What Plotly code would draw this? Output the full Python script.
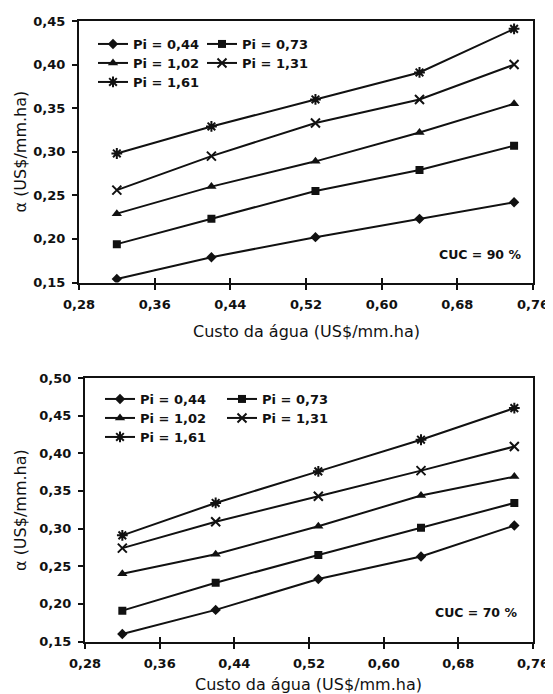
import plotly.graph_objects as go

# page body has an 8px margin; the figure is sized so it ends at the window edge
OFF = 8
W, H = 553 - OFF, 694 - OFF

# ---- data ----
custo = [0.32, 0.42, 0.53, 0.64, 0.74]
pi_labels = ["Pi = 0,44", "Pi = 0,73", "Pi = 1,02", "Pi = 1,31", "Pi = 1,61"]

cuc90_pi044 = [0.154, 0.179, 0.202, 0.223, 0.242]
cuc90_pi073 = [0.194, 0.223, 0.255, 0.279, 0.307]
cuc90_pi102 = [0.229, 0.260, 0.289, 0.322, 0.355]
cuc90_pi131 = [0.256, 0.295, 0.333, 0.360, 0.400]
cuc90_pi161 = [0.298, 0.329, 0.360, 0.391, 0.441]

cuc70_pi044 = [0.160, 0.192, 0.233, 0.263, 0.304]
cuc70_pi073 = [0.191, 0.228, 0.265, 0.301, 0.334]
cuc70_pi102 = [0.240, 0.266, 0.303, 0.344, 0.369]
cuc70_pi131 = [0.274, 0.309, 0.343, 0.377, 0.409]
cuc70_pi161 = [0.291, 0.334, 0.376, 0.418, 0.460]

x_ticks = [0.28, 0.36, 0.44, 0.52, 0.60, 0.68, 0.76]
y_ticks_top = [0.15, 0.20, 0.25, 0.30, 0.35, 0.40, 0.45]
y_ticks_bot = [0.15, 0.20, 0.25, 0.30, 0.35, 0.40, 0.45, 0.50]

top_series = [cuc90_pi044, cuc90_pi073, cuc90_pi102, cuc90_pi131, cuc90_pi161]
bot_series = [cuc70_pi044, cuc70_pi073, cuc70_pi102, cuc70_pi131, cuc70_pi161]

# ---- styles ----
INK = "#111111"
FONT = "DejaVu Sans"
symbols = ["diamond", "square", "triangle-up", "x-thin-open", "asterisk-open"]
msizes = [8, 8, 9, 9, 9]


def px_x(p):
    return (p - OFF) / W


def px_y(p):
    return 1 - (p - OFF) / H


fig = go.Figure()

# legend placement (window pixels): (text start x, row centre y)
top_leg_pos = [(133, 44), (242, 44), (133, 63), (242, 63), (133, 82)]
bot_leg_pos = [(140, 399), (262, 399), (140, 418), (262, 418), (140, 437)]

legends = {}
li = 1
for panel, series, pos, xa, ya in [
    ("top", top_series, top_leg_pos, "x", "y"),
    ("bot", bot_series, bot_leg_pos, "x2", "y2"),
]:
    for k, vals in enumerate(series):
        lname = "legend" if li == 1 else f"legend{li}"
        fig.add_trace(go.Scatter(
            x=custo, y=vals, name=pi_labels[k],
            xaxis=xa, yaxis=ya,
            mode="lines+markers",
            line=dict(color=INK, width=2),
            marker=dict(symbol=symbols[k], size=msizes[k], color=INK,
                        line=dict(color=INK, width=2 if k >= 3 else 0)),
            legend=lname,
        ))
        lx, ly = pos[k]
        legends[lname] = dict(
            x=px_x(lx - 40), y=px_y(ly), xanchor="left", yanchor="middle",
            bgcolor="rgba(0,0,0,0)", borderwidth=0,
            font=dict(family=FONT, size=13, color=INK, weight="bold"),
            itemclick=False, itemdoubleclick=False,
        )
        li += 1

# helper invisible traces for the inside half of the crossing x ticks
fig.add_trace(go.Scatter(x=[], y=[], xaxis="x3", yaxis="y", showlegend=False, hoverinfo="skip"))
fig.add_trace(go.Scatter(x=[], y=[], xaxis="x4", yaxis="y2", showlegend=False, hoverinfo="skip"))

tickfont = dict(family=FONT, size=13, color=INK, weight="bold")

common_x = dict(
    range=[0.28, 0.76], tickvals=x_ticks, tickformat=".2f",
    showgrid=False, zeroline=False, showline=True, linecolor=INK, linewidth=2,
    mirror=True, ticks="outside", ticklen=5, tickwidth=2, tickcolor=INK,
    tickfont=tickfont, fixedrange=True, ticklabelstandoff=4, automargin=False,
)
common_y = dict(
    showgrid=False, zeroline=False, showline=True, linecolor=INK, linewidth=2,
    mirror=True, ticks="outside", ticklen=5, tickwidth=2, tickcolor=INK,
    tickfont=tickfont, tickformat=".2f", fixedrange=True, ticklabelstandoff=4,
    automargin=False,
)
overlay_x = dict(
    range=[0.28, 0.76], tickvals=x_ticks, showticklabels=False, showline=False,
    showgrid=False, zeroline=False, ticks="inside", ticklen=5, tickwidth=2,
    tickcolor=INK, side="bottom", fixedrange=True, automargin=False,
)

top_xdom = [px_x(79), px_x(533)]
top_ydom = [px_y(282.5), px_y(21)]
bot_xdom = [px_x(85), px_x(533)]
bot_ydom = [px_y(641.5), px_y(378)]

fig.update_layout(
    width=W, height=H,
    margin=dict(l=0, r=0, t=0, b=0, autoexpand=False),
    paper_bgcolor="white", plot_bgcolor="white",
    separators=",.",
    font=dict(family=FONT, color=INK),
    xaxis=dict(domain=top_xdom, anchor="y", **common_x),
    yaxis=dict(domain=top_ydom, anchor="x", range=[0.15, 0.45], tickvals=y_ticks_top, **common_y),
    xaxis2=dict(domain=bot_xdom, anchor="y2", **common_x),
    yaxis2=dict(domain=bot_ydom, anchor="x2", range=[0.15, 0.50], tickvals=y_ticks_bot, **common_y),
    xaxis3=dict(overlaying="x", anchor="y", **overlay_x),
    xaxis4=dict(overlaying="x2", anchor="y2", **overlay_x),
    showlegend=True,
    **legends,
)

ann = []
xtitle = "Custo da água (US$/mm.ha)"
ytitle = "α (US$/mm.ha)"
ann.append(dict(text=xtitle, x=px_x(306), y=px_y(331), xref="paper", yref="paper",
                showarrow=False, xanchor="center", yanchor="middle",
                font=dict(family=FONT, size=16, color=INK)))
ann.append(dict(text=xtitle, x=px_x(308), y=px_y(684), xref="paper", yref="paper",
                showarrow=False, xanchor="center", yanchor="middle",
                font=dict(family=FONT, size=16, color=INK)))
ann.append(dict(text=ytitle, x=px_x(20), y=px_y(151.5), xref="paper", yref="paper",
                showarrow=False, xanchor="center", yanchor="middle", textangle=-90,
                font=dict(family=FONT, size=16, color=INK)))
ann.append(dict(text=ytitle, x=px_x(20), y=px_y(510), xref="paper", yref="paper",
                showarrow=False, xanchor="center", yanchor="middle", textangle=-90,
                font=dict(family=FONT, size=16, color=INK)))
ann.append(dict(text="CUC = 90 %", x=px_x(523), y=px_y(255), xref="paper", yref="paper",
                showarrow=False, xanchor="right", yanchor="middle",
                font=dict(family=FONT, size=12.5, color=INK, weight="bold")))
ann.append(dict(text="CUC = 70 %", x=px_x(519), y=px_y(612), xref="paper", yref="paper",
                showarrow=False, xanchor="right", yanchor="middle",
                font=dict(family=FONT, size=12.5, color=INK, weight="bold")))
fig.update_layout(annotations=ann)

fig.write_html("out.html")
